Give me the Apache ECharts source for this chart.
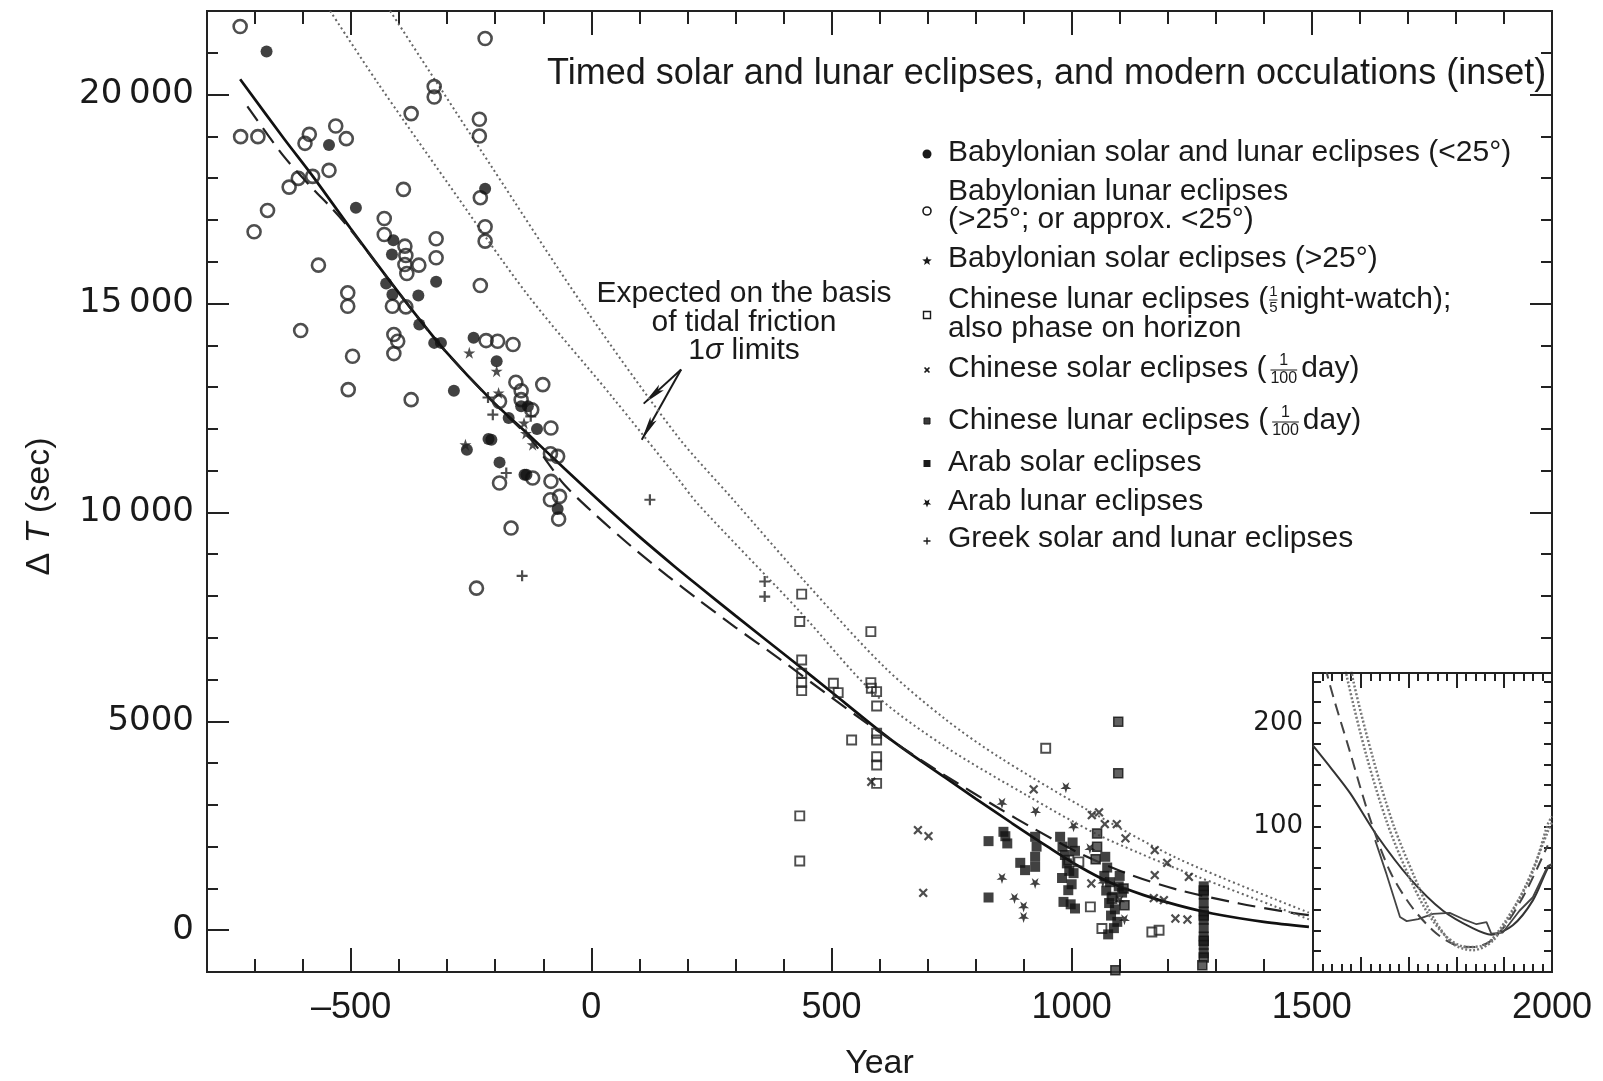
<!DOCTYPE html>
<html>
<head>
<meta charset="utf-8">
<title>Delta T from timed eclipses</title>
<script src="https://cdn.jsdelivr.net/npm/echarts@6/dist/echarts.min.js"></script>
<style>
html, body { margin: 0; padding: 0; background: #fff; }
#chart { width: 1603px; height: 1081px; }
</style>
</head>
<body>
<div id="chart"></div>
<script>
var babSolarLunar = [[-676,21030],[-546,18792],[-490,17289],[-412,16515],[-415,16173],[-323,15519],[-427,15478],[-414,15214],
  [-360,15191],[-221,17747],[-358,14496],[-327,14057],[-313,14057],[-286,12914],[-245,14177],[-197,13617],[-214,11757],
  [-208,11741],[-191,11197],[-139,10902],[-146,12538],[-132,12538],[-172,12258],[-113,11997],[-135,10902],[-70,10080],[-259,11500]];
var babLunar = [[-731,21629],[-730,18993],[-694,18993],[-587,19048],[-596,18833],[-532,19247],[-510,18945],[-546,18186],
  [-580,18042],[-610,17994],[-629,17785],[-674,17227],[-702,16717],[-391,17731],[-431,17035],[-431,16652],[-388,16372],
  [-386,16149],[-388,15933],[-384,15718],[-359,15917],[-323,16549],[-323,16094],[-568,15917],[-507,15255],[-507,14934],
  [-414,14934],[-386,14918],[-221,21341],[-327,20191],[-327,19942],[-375,19544],[-233,19408],[-233,19007],[-231,17532],
  [-221,16837],[-221,16492],[-231,15430],[-605,14352],[-411,14256],[-403,14096],[-411,13801],[-497,13736],[-506,12938],
  [-375,12698],[-219,14112],[-195,14096],[-163,14017],[-157,13113],[-101,13058],[-146,12913],[-146,12698],[-124,12457],
  [-191,12657],[-84,12021],[-85,11405],[-70,11341],[-122,10823],[-84,10743],[-85,10303],[-66,10383],[-68,9840],
  [-167,9625],[-239,8187],[-191,10703]];
var babSolar = [[-254,13818],[-197,13380],[-193,12857],[-262,11620],[-140,12140],[-136,11890],[-122,11620]];
var chnLunarWatch = [[438,8043],[434,7387],[582,7147],[438,6469],[438,6150],[438,5925],[438,5734],[504,5911],[514,5686],
  [542,4552],[582,5925],[583,5791],[594,5710],[594,5367],[594,4713],[594,4552],[594,4152],[594,3953],[594,3515],
  [434,2736],[434,1658],[946,4354],[994,1677],[1015,1636],[1039,558],[1063,40],[1084,760],[1167,-41],[1182,0]];
var chnSolar = [[680,2396],[702,2252],[691,894],[921,3371],[1042,2755],[1069,2540],[1094,2540],[1057,2820],[1173,1917],
  [1173,1318],[1199,1613],[1171,767],[1192,719],[1216,280],[1241,256],[1244,1277],[583,3553],[1041,1119],[1112,2200]];
var chnLunarDay = [[1097,4991],[1097,3755],[1053,2317],[1053,1997],[1050,1700],[1108,1000],[1110,600],[1275,950],
  [1275,350],[1275,-250],[1275,-650],[1272,-839],[1091,-958]];
var arabSolar = [[827,2132],[827,783],[858,2355],[866,2077],[862,2250],[893,1613],[903,1438],[924,2236],[927,2000],
  [924,1757],[924,1517],[976,2236],[981,2000],[986,1800],[990,1600],[995,1420],[980,1250],[1000,1100],[993,958],
  [1004,1366],[1007,1900],[1002,2100],[983,678],[998,620],[1007,520],[1070,1757],[1074,1500],[1068,1300],[1080,1150],
  [1072,950],[1085,800],[1078,650],[1090,500],[1082,350],[1095,200],[1088,50],[1076,-100],[1100,1300],[1105,900],
  [1098,1050],[1275,1050],[1275,850],[1275,650],[1275,450],[1275,250],[1275,50],[1275,-150],[1275,-350],[1275,-550]];
var arabLunar = [[855,3036],[855,1239],[881,759],[900,558],[900,304],[925,2835],[924,1119],[988,3410],[1004,2475],
  [1038,1950],[1065,1150],[1100,700],[1110,250]];
var greek = [[-205,12339],[-215,12750],[-177,10943],[-144,8482],[122,10303],[361,8346],[361,7986],[-126,12300]];

// ---- fitted curves ----
var solidFit = [[-731,20366],[-640,18950],[-580,18049],[-501,16793],[-431,15715],[-370,14800],[-306,13891],[-209,12700],
  [-125,11800],[-56,11050],[41,10020],[100,9420],[174,8700],[222,8250],[300,7530],[424,6400],[500,5700],[598,4790],
  [650,4340],[737,3650],[800,3150],[876,2560],[950,2000],[1015,1530],[1080,1140],[1150,840],[1220,600],[1293,400],
  [1400,200],[1494,80]];
var dashedFit = [[-716,19720],[-640,18520],[-580,17750],[-542,17300],[-501,16760],[-431,15710],[-370,14795],[-306,13885],
  [-209,12690],[-125,11740],[-90,11180],[-56,10660],[7,9960],[83,9190],[160,8470],[222,7920],[300,7250],[389,6520],
  [487,5680],[584,4870],[650,4350],[737,3700],[851,2900],[917,2460],[1015,1850],[1119,1340],[1224,960],[1349,640],
  [1446,440],[1494,360]];
var tidalUpper = [[-430,22200],[-209,18300],[-14,14900],[181,11800],[292,10350],[452,8250],[610,6300],[737,5050],
  [848,4150],[1030,2900],[1224,1700],[1494,420]];
var tidalLower = [[-555,22200],[-445,20286],[-300,17900],[-132,15200],[41,12800],[181,10800],[222,10200],[431,7667],
  [590,5650],[737,4392],[911,3200],[1049,2317],[1140,1850],[1224,1450],[1494,260]];

// ---- inset, modern occultations ----
var insetFit = [[1500,178],[1540,155],[1578,132],[1633,92],[1703,50],[1772,19],[1835,2],[1873,-4],[1918,5],[1960,29],[1991,60],[2000,64]];
var insetObserved = [[1630,87],[1654,54],[1682,13],[1696,9],[1720,11],[1751,16],[1786,17],[1814,11],[1842,6],[1863,8],
  [1873,-3],[1897,-2],[1932,19],[1960,32],[1991,62],[2000,64]];
var insetDashed = [[1515,290],[1529,248],[1578,171],[1619,108],[1661,57],[1703,25],[1751,0],[1793,-13],[1835,-16],
  [1869,-11],[1904,6],[1946,38],[1991,82]];
var insetUpper = [[1575,270],[1584,241],[1626,165],[1668,102],[1710,54],[1751,13],[1793,-13],[1835,-19],[1876,-10],
  [1918,19],[1960,57],[1991,102],[2000,110]];
var insetLower = [[1562,270],[1571,244],[1612,168],[1654,105],[1696,57],[1737,19],[1779,-6],[1821,-16],[1863,-13],
  [1904,10],[1946,44],[1991,95],[2000,104]];

// ---- tick positions, labels ----
function range(a, b, step) {
  var out = [];
  for (var v = a; v <= b; v += step) out.push(String(v));
  return out;
}
var xTicks = range(-800, 2000, 100);       // label every 500
var yTicks = range(-1000, 22000, 1000);    // label every 5000
var insetXTicks = range(1500, 2000, 20);   // long tick every 100
var insetYShown = [100, 200];
var arrowFrom = [187, 13418];
var arrowTips = [[109, 12603], [105, 11740]];

var INK = '#1a1a1a';
var SANS = 'Liberation Sans';
var PLUS = 'path://M4,0H6V4H10V6H6V10H4V6H0V4H4Z';
var STAR = 'path://M5,0L6.2,3.6L10,3.6L6.9,5.8L8.1,9.5L5,7.2L1.9,9.5L3.1,5.8L0,3.6L3.8,3.6Z';
var frameLine = { color: '#222', width: 2 };

// frame side built on a category axis, so ticks can be picked one by one
function side(o) {
  var ax = {
    type: 'category', data: o.data, boundaryGap: false, gridIndex: o.grid, position: o.pos, offset: 0, z: o.z || 0,
    splitLine: { show: false },
    axisLine: { show: true, onZero: false, lineStyle: frameLine },
    axisTick: { show: true, inside: true, length: o.len, interval: o.keep, lineStyle: frameLine },
    axisLabel: { show: false }
  };
  if (o.label) {
    ax.axisLabel = { show: true, interval: o.label, margin: o.margin, color: INK, fontSize: o.fontSize,
      fontFamily: o.font, formatter: o.formatter, padding: o.padding || 0 };
  }
  return ax;
}
function hidden(grid, min, max) {
  return { type: 'value', gridIndex: grid, min: min, max: max, show: false, splitLine: { show: false } };
}
function notEvery(n) { return function (i, v) { return +v % n !== 0; }; }

var xAxes = [
  hidden(0, -800, 2000),
  side({ grid: 0, pos: 'bottom', data: xTicks, len: 24,
    keep: function (i, v) { return +v % 500 === 0 && +v > -800 && +v < 1500; },
    label: function (i, v) { return +v % 500 === 0 && +v > -800; }, margin: 18, fontSize: 36, font: SANS,
    formatter: function (v) { return v.replace('-', '\u2013'); } }),
  side({ grid: 0, pos: 'bottom', data: xTicks, len: 13,
    keep: function (i, v) { return +v % 500 !== 0 && +v < 1500; } }),
  side({ grid: 0, pos: 'top', data: xTicks, len: 24, keep: function (i, v) { return +v % 500 === 0 && +v < 2000; } }),
  side({ grid: 0, pos: 'top', data: xTicks, len: 13, keep: notEvery(500) }),
  hidden(1, 1500, 2000),
  side({ grid: 1, pos: 'bottom', data: insetXTicks, len: 15, z: 3,
    keep: function (i, v) { return +v % 100 === 0 && i > 0 && +v < 2000; } }),
  side({ grid: 1, pos: 'bottom', data: insetXTicks, len: 8, z: 3, keep: notEvery(100) }),
  side({ grid: 1, pos: 'top', data: insetXTicks, len: 15, z: 3,
    keep: function (i, v) { return +v % 100 === 0 && i > 0 && +v < 2000; } }),
  side({ grid: 1, pos: 'top', data: insetXTicks, len: 8, z: 3, keep: notEvery(100) })
];
xAxes[1].name = 'Year';
xAxes[1].nameLocation = 'middle';
xAxes[1].nameGap = 75;
xAxes[1].nameTextStyle = { fontSize: 34, fontFamily: SANS, color: INK };

function insetY(pos, withLabels) {
  return {
    type: 'value', gridIndex: 1, position: pos, min: -40, max: 248, interval: 20, offset: 0, z: 3,
    splitLine: { show: false },
    axisLine: { show: true, onZero: false, lineStyle: frameLine },
    axisTick: { show: true, inside: true, length: 8, lineStyle: frameLine },
    axisLabel: withLabels ? { show: true, margin: 10, color: INK, fontSize: 26, fontFamily: 'DejaVu Sans', showMaxLabel: false,
      formatter: function (v) { return insetYShown.indexOf(v) >= 0 ? String(v) : ''; } } : { show: false }
  };
}

var yAxes = [
  hidden(0, -1000, 22000),
  side({ grid: 0, pos: 'left', data: yTicks, len: 22,
    keep: function (i, v) { return +v % 5000 === 0 && +v >= 0; },
    label: function (i, v) { return +v % 5000 === 0 && +v >= 0; }, margin: 13, fontSize: 34, font: 'DejaVu Sans',
    padding: [6, 0, 0, 0],
    formatter: function (v) { return +v >= 10000 ? v.slice(0, 2) + '\u2009' + v.slice(2) : v; } }),
  side({ grid: 0, pos: 'left', data: yTicks, len: 11,
    keep: function (i, v) { return +v % 5000 !== 0 && +v > -1000 && +v < 22000; } }),
  side({ grid: 0, pos: 'right', data: yTicks, len: 22, keep: function (i, v) { return +v % 5000 === 0 && +v >= 10000; } }),
  side({ grid: 0, pos: 'right', data: yTicks, len: 11,
    keep: function (i, v) { return +v % 5000 !== 0 && +v > 6000 && +v < 22000; } }),
  insetY('left', true),
  insetY('right', false)
];
yAxes[1].name = '{d|\u0394 }{t|T}{d| (sec)}';
yAxes[1].nameLocation = 'middle';
yAxes[1].nameGap = 150;
yAxes[1].nameRotate = 90;
yAxes[1].nameTextStyle = {
  padding: [0, 30, 0, 0],
  rich: {
    d: { fontSize: 34, fontFamily: SANS, color: INK },
    t: { fontSize: 34, fontFamily: SANS, color: INK, fontStyle: 'italic' }
  }
};

function line(name, data, style, inset) {
  return {
    name: name, type: 'line', data: data, xAxisIndex: inset ? 5 : 0, yAxisIndex: inset ? 5 : 0,
    showSymbol: false, smooth: 0.3, clip: true, silent: true, lineStyle: style, z: inset ? 6 : 3
  };
}
function dots(name, data, symbol, size, style, rotate) {
  return {
    name: name, type: 'scatter', data: data, xAxisIndex: 0, yAxisIndex: 0,
    symbol: symbol, symbolSize: size, symbolRotate: rotate || 0, itemStyle: style, z: 4, silent: true
  };
}

var dotted = { color: '#666', width: 2, type: [2, 3] };
var series = [
  line('fit', solidFit, { color: '#111', width: 2.7 }),
  line('alt fit', dashedFit, { color: '#222', width: 2.2, type: [18, 9] }),
  line('tidal upper', tidalUpper, dotted),
  line('tidal lower', tidalLower, dotted),
  dots('Babylonian lunar', babLunar, 'circle', 13, { color: 'rgba(0,0,0,0)', borderColor: '#222', borderWidth: 2.6 }),
  dots('Babylonian solar and lunar', babSolarLunar, 'circle', 12, { color: '#111' }),
  dots('Babylonian solar', babSolar, STAR, 12, { color: '#222' }),
  dots('Chinese lunar watch', chnLunarWatch, 'rect', 9, { color: 'rgba(0,0,0,0)', borderColor: '#222', borderWidth: 1.9 }),
  dots('Chinese solar', chnSolar, PLUS, 11, { color: '#222' }, 45),
  dots('Chinese lunar day', chnLunarDay, 'rect', 9, { color: '#3a3a3a', borderColor: '#111', borderWidth: 1.5 }),
  dots('Arab solar', arabSolar, 'rect', 10, { color: '#111' }),
  dots('Arab lunar', arabLunar, STAR, 11, { color: '#111' }, 180),
  dots('Greek', greek, PLUS, 11, { color: '#222' }),
  line('inset fit', insetFit, { color: '#333', width: 2 }, true),
  line('inset observed', insetObserved, { color: '#444', width: 1.8 }, true),
  line('inset dashed', insetDashed, { color: '#444', width: 2, type: [12, 7] }, true),
  line('inset upper', insetUpper, { color: '#777', width: 2.5, type: [2, 2] }, true),
  line('inset lower', insetLower, { color: '#777', width: 2.5, type: [2, 2] }, true)
];
series[14].smooth = false;

var chart = echarts.init(document.getElementById('chart'), null, { renderer: 'canvas' });
chart.setOption({
  animation: false,
  backgroundColor: '#fff',
  textStyle: { fontFamily: SANS },
  grid: [
    { left: 207, right: 51, top: 11, bottom: 109, show: false, outerBoundsMode: 'none', containLabel: false },
    { left: 1313, right: 51, top: 673, bottom: 109, show: true, backgroundColor: '#fff', borderWidth: 0, z: 1,
      outerBoundsMode: 'none', containLabel: false }
  ],
  xAxis: xAxes,
  yAxis: yAxes,
  series: series
});

// ---- legend, title and the note, as plain graphic text ----
var meas = document.createElement('canvas').getContext('2d');
function textW(s, size) { meas.font = size + 'px "' + SANS + '"'; return meas.measureText(s).width; }

var LEG = 30, TX = 948, SX = 927;
var graphics = [];
function txt(x, y, s, size, align) {
  graphics.push({ type: 'text', x: x, y: y, silent: true, style: {
    text: s, fontSize: size, fontFamily: SANS, fill: INK, align: align || 'left', verticalAlign: 'middle' } });
}
function frac(x, y, num, den, size) {
  var w = Math.max(textW(num, size), textW(den, size));
  graphics.push({ type: 'text', x: x + w / 2, y: y - size * 0.5, silent: true,
    style: { text: num, fontSize: size, fontFamily: SANS, fill: INK, align: 'center', verticalAlign: 'middle' } });
  graphics.push({ type: 'text', x: x + w / 2, y: y + size * 0.62, silent: true,
    style: { text: den, fontSize: size, fontFamily: SANS, fill: INK, align: 'center', verticalAlign: 'middle' } });
  graphics.push({ type: 'line', silent: true, shape: { x1: x, y1: y + 1, x2: x + w, y2: y + 1 },
    style: { stroke: INK, lineWidth: 1 } });
  return w;
}
function starPts(r, flip) {
  var pts = [];
  for (var i = 0; i < 10; i++) {
    var a = -Math.PI / 2 + i * Math.PI / 5, rr = i % 2 ? r * 0.42 : r;
    pts.push([Math.cos(a) * rr, (flip ? -1 : 1) * Math.sin(a) * rr]);
  }
  return pts;
}
function plusPts(r, w) {
  return [[-w, -r], [w, -r], [w, -w], [r, -w], [r, w], [w, w], [w, r], [-w, r], [-w, w], [-r, w], [-r, -w], [-w, -w]];
}
function mark(el) { el.silent = true; graphics.push(el); }

txt(547, 74, 'Timed solar and lunar eclipses, and modern occulations (inset)', 36);

txt(TX, 153, 'Babylonian solar and lunar eclipses (<25\u00b0)', LEG);
mark({ type: 'circle', shape: { cx: SX, cy: 154, r: 4.5 }, style: { fill: INK } });

txt(TX, 192, 'Babylonian lunar eclipses', LEG);
txt(TX, 220, '(>25\u00b0; or approx. <25\u00b0)', LEG);
mark({ type: 'circle', shape: { cx: SX, cy: 211, r: 4 }, style: { fill: 'none', stroke: INK, lineWidth: 1.6 } });

txt(TX, 259, 'Babylonian solar eclipses (>25\u00b0)', LEG);
mark({ type: 'polygon', x: SX, y: 261, shape: { points: starPts(5) }, style: { fill: INK } });

var s1 = 'Chinese lunar eclipses (';
txt(TX, 300, s1, LEG);
var fx = TX + textW(s1, LEG) + 1;
var fw = frac(fx, 299, '1', '5', 15);
txt(fx + fw + 2, 300, 'night-watch);', LEG);
txt(TX, 329, 'also phase on horizon', LEG);
mark({ type: 'rect', shape: { x: SX - 3.5, y: 311.5, width: 7, height: 7 }, style: { fill: 'none', stroke: INK, lineWidth: 1.4 } });

var s2 = 'Chinese solar eclipses (';
txt(TX, 369, s2, LEG);
fx = TX + textW(s2, LEG) + 4;
fw = frac(fx, 369, '1', '100', 16);
txt(fx + fw + 4, 369, 'day)', LEG);
mark({ type: 'polygon', x: SX, y: 370, rotation: Math.PI / 4, shape: { points: plusPts(3.5, 0.8) }, style: { fill: INK } });

var s3 = 'Chinese lunar eclipses (';
txt(TX, 421, s3, LEG);
fx = TX + textW(s3, LEG) + 4;
fw = frac(fx, 421, '1', '100', 16);
txt(fx + fw + 4, 421, 'day)', LEG);
mark({ type: 'rect', shape: { x: SX - 3, y: 418, width: 6, height: 6 }, style: { fill: '#3a3a3a', stroke: INK, lineWidth: 1 } });

txt(TX, 463, 'Arab solar eclipses', LEG);
mark({ type: 'rect', shape: { x: SX - 3.5, y: 460, width: 7, height: 7 }, style: { fill: INK } });

txt(TX, 502, 'Arab lunar eclipses', LEG);
mark({ type: 'polygon', x: SX, y: 503, shape: { points: starPts(4.5, true) }, style: { fill: INK } });

txt(TX, 539, 'Greek solar and lunar eclipses', LEG);
mark({ type: 'polygon', x: SX, y: 541, shape: { points: plusPts(3.5, 0.7) }, style: { fill: INK } });

// note on the tidal friction limits
txt(744, 294, 'Expected on the basis', 30, 'center');
txt(744, 323, 'of tidal friction', 30, 'center');
graphics.push({ type: 'text', x: 744, y: 351, silent: true, style: {
  text: '{n|1}{s|\u03c3}{n| limits}', align: 'center', verticalAlign: 'middle',
  rich: { n: { fontSize: 30, fontFamily: SANS, fill: INK }, s: { fontSize: 30, fontFamily: SANS, fill: INK, fontStyle: 'italic' } } } });

// arrows from the note to the two limit curves, placed through the axes
var p0 = chart.convertToPixel({ xAxisIndex: 0, yAxisIndex: 0 }, arrowFrom);
arrowTips.forEach(function (t) {
  var p1 = chart.convertToPixel({ xAxisIndex: 0, yAxisIndex: 0 }, t);
  var ang = Math.atan2(p1[1] - p0[1], p1[0] - p0[0]);
  graphics.push({ type: 'line', silent: true, shape: { x1: p0[0], y1: p0[1], x2: p1[0], y2: p1[1] },
    style: { stroke: INK, lineWidth: 2 } });
  var L = 24, W = 3.6, c = Math.cos(ang), s = Math.sin(ang);
  graphics.push({ type: 'polygon', silent: true, shape: { points: [
    [p1[0], p1[1]],
    [p1[0] - L * c - W * s, p1[1] - L * s + W * c],
    [p1[0] - L * 0.8 * c, p1[1] - L * 0.8 * s],
    [p1[0] - L * c + W * s, p1[1] - L * s - W * c]
  ] }, style: { fill: INK } });
});

chart.setOption({ graphic: graphics });
</script>
</body>
</html>
